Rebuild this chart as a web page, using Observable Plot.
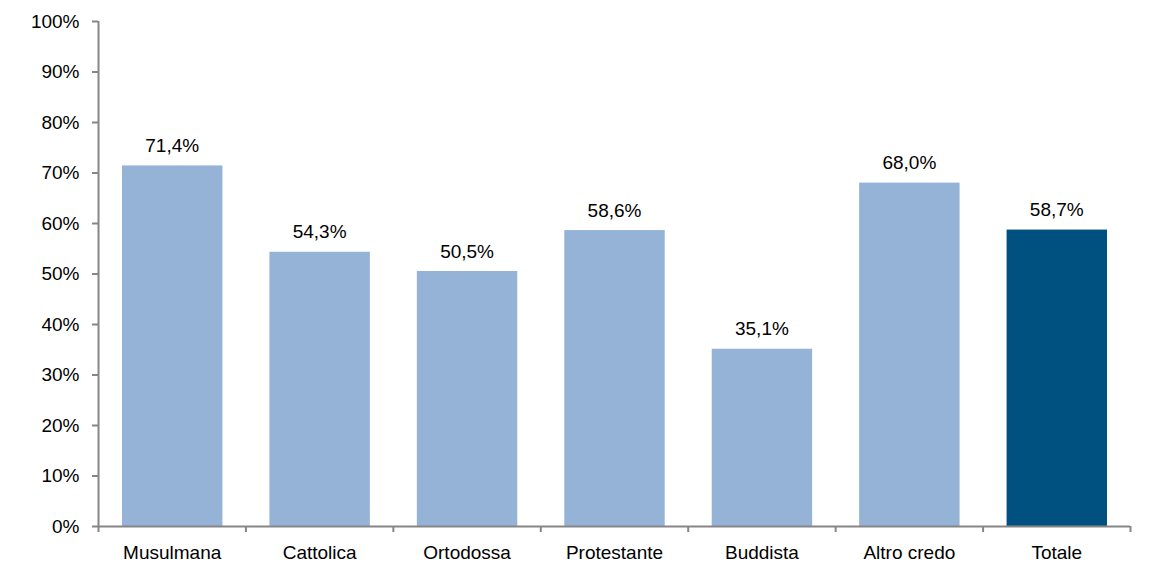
<!DOCTYPE html>
<html><head><meta charset="utf-8">
<script src="https://cdn.jsdelivr.net/npm/d3@7"></script>
<script src="https://cdn.jsdelivr.net/npm/@observablehq/plot@0.6"></script>
<style>body{margin:0;background:#fff;font-family:"Liberation Sans",Arial,sans-serif}</style>
</head><body><div id="chart"></div>
<script>
const categories = ["Musulmana","Cattolica","Ortodossa","Protestante","Buddista","Altro credo","Totale"];
const values = [71.4, 54.3, 50.5, 58.6, 35.1, 68.0, 58.7];
const colors = ["#95B3D7","#95B3D7","#95B3D7","#95B3D7","#95B3D7","#95B3D7","#00517F"];
const yTicks = [0,10,20,30,40,50,60,70,80,90,100];

const data = categories.map((c,i)=>({cat:c, i, value:values[i], color:colors[i]}));
const fmt = v => v.toFixed(1).replace(".", ",") + "%";
const axisColor = "#868686";
const fs = 19;

const chart = Plot.plot({
  width: 1152, height: 567,
  marginLeft: 98, marginRight: 22, marginTop: 21, marginBottom: 41,
  style: {fontFamily: '"Liberation Sans", Arial, sans-serif', fontSize: fs + "px", color: "#000", background: "#fff"},
  x: {domain: [0, categories.length], axis: null},
  y: {domain: [0, 100], axis: null},
  marks: [
    Plot.rectY(data, {x1: d=>d.i, x2: d=>d.i+1, y: "value", fill: "color", insetLeft: 24, insetRight: 23}),
    Plot.text(data, {x: d=>d.i+0.5, y: "value", text: d=>fmt(d.value), dy: -20, fontSize: fs, fill: "#000"}),
    Plot.ruleX([0], {stroke: axisColor, strokeWidth: 2}),
    Plot.ruleY([0], {stroke: axisColor, strokeWidth: 2}),
    Plot.axisY({ticks: yTicks, tickFormat: d=>d+"%", tickSize: 6, tickPadding: 13, stroke: axisColor, strokeWidth: 2, fontSize: fs, fill: "#000", label: null}),
    Plot.axisX({ticks: d3.range(categories.length+1), tickFormat: ()=>"", tickSize: 6, stroke: axisColor, strokeWidth: 2, label: null}),
    Plot.text(data, {x: d=>d.i+0.5, y: 0, text: "cat", dy: 26, fontSize: fs, fill: "#000"})
  ]
});
document.getElementById("chart").appendChild(chart);
</script></body></html>
